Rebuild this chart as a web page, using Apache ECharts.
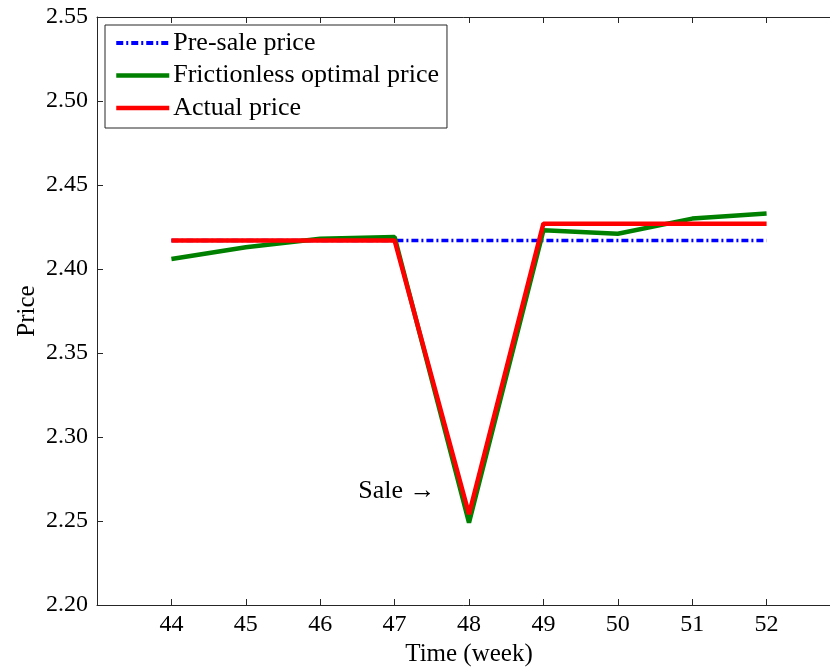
<!DOCTYPE html>
<html>
<head>
<meta charset="utf-8">
<script src="https://cdn.jsdelivr.net/npm/echarts@6/dist/echarts.min.js"></script>
<style>
  html, body { margin: 0; padding: 0; background: #fff; }
  #chart { width: 830px; height: 669px; }
</style>
</head>
<body>
<div id="chart"></div>
<script>
// données
const weeks = [44, 45, 46, 47, 48, 49, 50, 51, 52];
const preSale = [2.417, 2.417, 2.417, 2.417, 2.417, 2.417, 2.417, 2.417, 2.417];
const frictionless = [2.406, 2.413, 2.418, 2.419, 2.249, 2.423, 2.421, 2.430, 2.433];
const actual = [2.417, 2.417, 2.417, 2.417, 2.254, 2.427, 2.427, 2.427, 2.427];
const yTicks = [2.20, 2.25, 2.30, 2.35, 2.40, 2.45, 2.50, 2.55];

const font = 'Liberation Serif';
const axisColor = '#262626';

const pairs = arr => weeks.map((w, i) => [w, arr[i]]);

const chart = echarts.init(document.getElementById('chart'));

const baseX = {
  type: 'value',
  min: 43,
  max: 53,
  interval: 1,
  axisLine: { show: true, lineStyle: { color: axisColor, width: 1 } },
  axisTick: { show: true, inside: true, length: 6, lineStyle: { color: axisColor } },
  splitLine: { show: false }
};

const option = {
  animation: false,
  backgroundColor: '#fff',
  textStyle: { fontFamily: font },
  grid: { left: 97, top: 17, width: 744, height: 588, outerBoundsMode: 'none', containLabel: false },
  legend: {
    orient: 'vertical',
    left: 105,
    top: 25,
    padding: [5, 8, 7, 9],
    itemWidth: 53,
    itemHeight: 14,
    itemGap: 6.5,
    backgroundColor: '#fff',
    borderColor: axisColor,
    borderWidth: 1,
    borderRadius: 0,
    itemStyle: { opacity: 0 },
    textStyle: { fontFamily: font, fontSize: 26, color: '#000', lineHeight: 26, padding: [0, 0, 0, -1] },
    data: [
      { name: 'Pre-sale price', lineStyle: { width: 4 } },
      { name: 'Frictionless optimal price', lineStyle: { width: 4.5 } },
      { name: 'Actual price', lineStyle: { width: 4.5 } }
    ]
  },
  xAxis: [
    Object.assign({}, baseX, {
      position: 'bottom',
      name: 'Time (week)',
      nameLocation: 'middle',
      nameGap: 34,
      nameTextStyle: { fontFamily: font, fontSize: 25, color: '#000' },
      axisLabel: {
        fontFamily: font, fontSize: 24, color: '#000', margin: 8,
        showMinLabel: false, showMaxLabel: false,
        formatter: v => (weeks.includes(v) ? String(v) : '')
      }
    }),
    Object.assign({}, baseX, {
      position: 'top',
      axisLabel: { show: false }
    })
  ],
  yAxis: {
    type: 'value',
    min: 2.2,
    max: 2.55,
    interval: 0.05,
    name: 'Price',
    nameLocation: 'middle',
    nameGap: 57,
    nameMoveOverlap: false,
    nameTextStyle: { fontFamily: font, fontSize: 25, color: '#000' },
    axisLine: { show: true, lineStyle: { color: axisColor, width: 1 } },
    axisTick: { show: true, inside: true, length: 6, lineStyle: { color: axisColor } },
    splitLine: { show: false },
    axisLabel: {
      fontFamily: font, fontSize: 24, color: '#000', margin: 9,
      formatter: v => {
        const t = yTicks.find(y => Math.abs(y - v) < 1e-6);
        return t === undefined ? '' : t.toFixed(2);
      }
    }
  },
  series: [
    {
      name: 'Pre-sale price',
      type: 'line',
      data: pairs(preSale),
      showSymbol: false,
      symbol: 'none',
      color: '#0000ff',
      lineStyle: { color: '#0000ff', width: 3.5, type: [7, 3, 2, 3] },
      z: 2
    },
    {
      name: 'Frictionless optimal price',
      type: 'line',
      data: pairs(frictionless),
      showSymbol: false,
      symbol: 'none',
      color: '#008000',
      lineStyle: { color: '#008000', width: 4.5 },
      z: 3
    },
    {
      name: 'Actual price',
      type: 'line',
      data: pairs(actual),
      showSymbol: false,
      symbol: 'none',
      color: '#ff0000',
      lineStyle: { color: '#ff0000', width: 4.5 },
      z: 4,
      markPoint: {
        symbol: 'circle',
        symbolSize: 0,
        data: [{ coord: [47.03, 2.268], value: 'Sale \u2192' }],
        label: {
          show: true,
          position: 'inside',
          formatter: 'Sale \u2192',
          fontFamily: font,
          fontSize: 26,
          color: '#000'
        }
      }
    }
  ]
};

chart.setOption(option);
window.addEventListener('resize', () => chart.resize());
</script>
</body>
</html>
